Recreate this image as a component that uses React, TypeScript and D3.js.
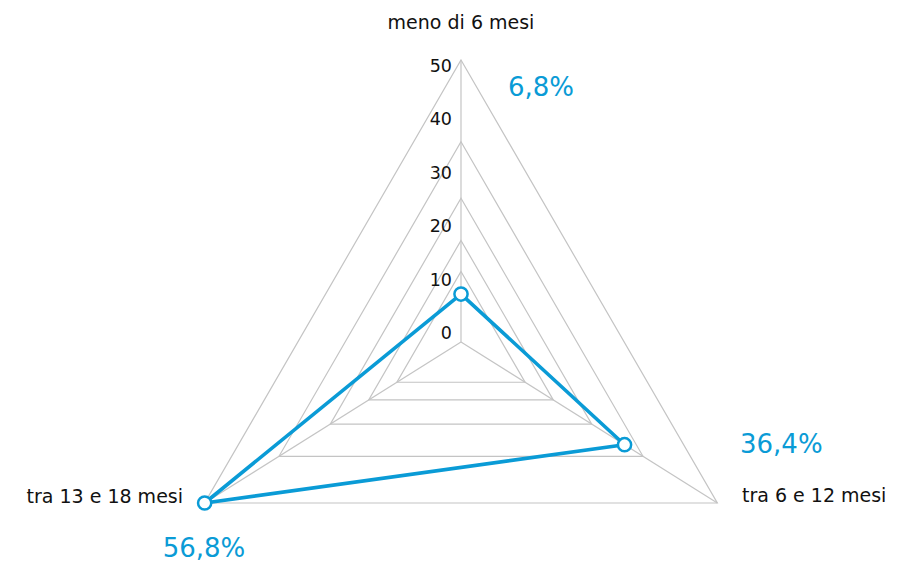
import React from "react";
import * as d3 from "d3";

const categories = ["meno di 6 mesi", "tra 6 e 12 mesi", "tra 13 e 18 mesi"];
const values = [6.8, 36.4, 56.8];
const ticks = [0, 10, 20, 30, 40, 50];
// ring positions (fraction of the full radius)
const ringFractions = [0, 0.25, 0.36, 0.51, 0.71, 1];

const W = 905;
const H = 565;
const cx = 461;
const cy = 342;
const Rx = 296;
const Rup = 282;
const Rdown = 322;
const BLUE = "#0a9bd6";
const GRID = "#c4c4c4";
const FONT = "'DejaVu Sans', Verdana, sans-serif";

const r = d3.scaleLinear().domain(ticks).range(ringFractions).clamp(true);
const angle = d3
  .scalePoint<string>()
  .domain(categories)
  .range([0, (2 * Math.PI * (categories.length - 1)) / categories.length]);
const tickY = d3.scaleLinear().domain([0, 50]).range([339, 72]);

function project(a: number, f: number): [number, number] {
  const s = Math.sin(a);
  const c = Math.cos(a);
  return [cx + f * Rx * s, cy - f * (c >= 0 ? Rup : Rdown) * c];
}

const fmt = (v: number) => v.toFixed(1).replace(".", ",") + "%";

// text placement for each category: [name x, name y, anchor, value x, value y, value anchor]
const labelPos: [number, number, string, number, number, string][] = [
  [461, 29, "middle", 508, 96, "start"],
  [742, 502, "start", 740, 453, "start"],
  [183, 503, "end", 204, 557, "middle"],
];

export default function App() {
  const line = d3.line<[number, number]>().curve(d3.curveLinearClosed);
  const pts = categories.map((c, i) => project(angle(c)!, r(values[i])));
  return (
    <svg width={W} height={H} style={{ display: "block", position: "absolute", left: 0, top: 0 }}>
      <rect width={W} height={H} fill="#fff" />
      {ticks.slice(1).map((t) => (
        <path
          key={t}
          d={line(categories.map((c) => project(angle(c)!, r(t))))!}
          fill="none"
          stroke={GRID}
          strokeWidth={1.2}
        />
      ))}
      {categories.map((c) => {
        const [x, y] = project(angle(c)!, 1);
        return <line key={c} x1={cx} y1={cy} x2={x} y2={y} stroke={GRID} strokeWidth={1.2} />;
      })}
      {ticks.map((t) => (
        <text key={t} x={452} y={tickY(t)} textAnchor="end" fontFamily={FONT} fontSize={17.5} fill="#111">
          {t}
        </text>
      ))}
      <path d={line(pts)!} fill="none" stroke={BLUE} strokeWidth={3.6} strokeLinejoin="round" />
      {pts.map((p, i) => (
        <circle key={i} cx={p[0]} cy={p[1]} r={6.6} fill="#fff" stroke={BLUE} strokeWidth={2.5} />
      ))}
      {categories.map((c, i) => {
        const lp = labelPos[i];
        return (
          <g key={c}>
            <text x={lp[0]} y={lp[1]} textAnchor={lp[2] as any} fontFamily={FONT} fontSize={19} fill="#111">
              {c}
            </text>
            <text x={lp[3]} y={lp[4]} textAnchor={lp[5] as any} fontFamily={FONT} fontSize={26} fill={BLUE}>
              {fmt(values[i])}
            </text>
          </g>
        );
      })}
    </svg>
  );
}
